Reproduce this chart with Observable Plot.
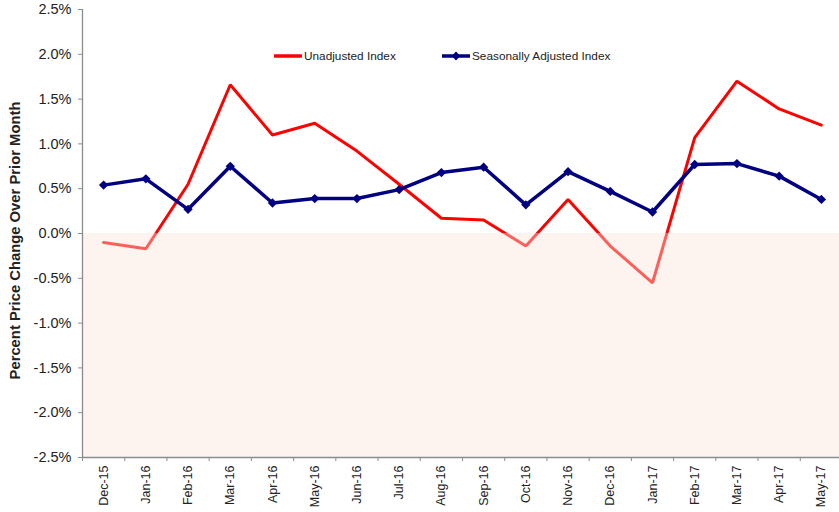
<!DOCTYPE html>
<html><head><meta charset="utf-8">
<script src="https://cdn.jsdelivr.net/npm/d3@7"></script>
<script src="https://cdn.jsdelivr.net/npm/@observablehq/plot@0.6"></script>
<style>html,body{margin:0;padding:0;background:#fff;overflow:hidden}</style>
</head><body><div id="chart"></div>
<script>
const months = ["Dec-15","Jan-16","Feb-16","Mar-16","Apr-16","May-16","Jun-16","Jul-16","Aug-16","Sep-16","Oct-16","Nov-16","Dec-16","Jan-17","Feb-17","Mar-17","Apr-17","May-17"];
const unadjusted = [-0.10,-0.17,0.55,1.66,1.10,1.23,0.92,0.55,0.17,0.15,-0.14,0.38,-0.14,-0.55,1.07,1.70,1.39,1.21];
const seasonal = [0.54,0.61,0.27,0.75,0.34,0.39,0.39,0.49,0.68,0.74,0.32,0.69,0.47,0.24,0.77,0.78,0.64,0.38];
const yTicks = [-0.025,-0.02,-0.015,-0.01,-0.005,0,0.005,0.01,0.015,0.02,0.025];
const yLabel = "Percent Price Change Over Prior Month";
const seriesNames = ["Unadjusted Index","Seasonally Adjusted Index"];
const seriesColors = ["#ff0000","#000080"];

const rows = months.map((m,i)=>({i, m, u: unadjusted[i]/100, s: seasonal[i]/100}));
const edges = d3.range(months.length+1);
const centers = months.map((m,i)=>i+0.5);
const yMin = d3.min(yTicks), yMax = d3.max(yTicks);
const fmt = v => (Math.round(v*1000)/10).toFixed(1) + "%";
const axisColor = "#8c8c8c";
const textColor = "#222";

const chart = Plot.plot({
  width: 839, height: 512,
  marginTop: 9, marginBottom: 55, marginLeft: 82, marginRight: 0,
  style: {fontFamily: "'Liberation Sans', Arial, sans-serif", background: "#fff", color: textColor},
  x: {domain: [0, months.length], range: [82, 842], axis: null},
  y: {domain: [yMin, yMax], axis: null},
  marks: [
    Plot.line(rows, {x: d => d.i + 0.5, y: "u", stroke: seriesColors[0], strokeWidth: 3, strokeLinejoin: "miter"}),
    Plot.line(rows, {x: d => d.i + 0.5, y: "s", stroke: seriesColors[1], strokeWidth: 3.5}),
    Plot.dot(rows, {x: d => d.i + 0.5, y: "s", symbol: "diamond2", fill: seriesColors[1], stroke: "none", r: 4.2}),
    Plot.rect([0], {x1: () => 0, x2: () => months.length, y1: () => yMin, y2: () => 0, fill: "#fbe4d8", fillOpacity: 0.42}),
    Plot.ruleX([0], {y1: () => yMin, y2: () => yMax, stroke: axisColor, strokeWidth: 1.3}),
    Plot.ruleY([yMin], {x1: () => 0, x2: () => months.length, stroke: axisColor, strokeWidth: 1.3}),
    Plot.axisY({ticks: yTicks, tickFormat: fmt, tickSize: 4, tickPadding: 7, fontSize: 14.5, stroke: axisColor, fill: textColor}),
    Plot.axisX({ticks: edges, tickFormat: () => "", tickSize: 4, stroke: axisColor}),
    Plot.axisX({ticks: centers, tickFormat: d => months[Math.floor(d)], tickSize: 0, tickPadding: 8, tickRotate: -90, fontSize: 12.5, fill: textColor}),
    Plot.text([yLabel], {frameAnchor: "left", textAnchor: "middle", rotate: -90, dx: -67, dy: 7, fontWeight: "bold", fontSize: 14.8, fill: textColor})
  ]
});
document.getElementById("chart").appendChild(chart);

// legend
const svg = d3.select(chart);
const lg = svg.append("g").attr("font-family", "'Liberation Sans', Arial, sans-serif").attr("font-size", 11.8).attr("fill", textColor).attr("text-anchor", "start");
const legendItems = [{x: 274, name: seriesNames[0], color: seriesColors[0], marker: false},
                     {x: 442, name: seriesNames[1], color: seriesColors[1], marker: true}];
legendItems.forEach(it => {
  lg.append("line").attr("x1", it.x).attr("x2", it.x + 28).attr("y1", 56).attr("y2", 56)
    .attr("stroke", it.color).attr("stroke-width", 3.5);
  if (it.marker) lg.append("path").attr("d", d3.symbol(d3.symbolDiamond2, 50)()).attr("transform", `translate(${it.x+14},56)`).attr("fill", it.color);
  lg.append("text").attr("x", it.x + 30).attr("y", 60.2).attr("text-anchor", "start").text(it.name);
});
</script></body></html>
